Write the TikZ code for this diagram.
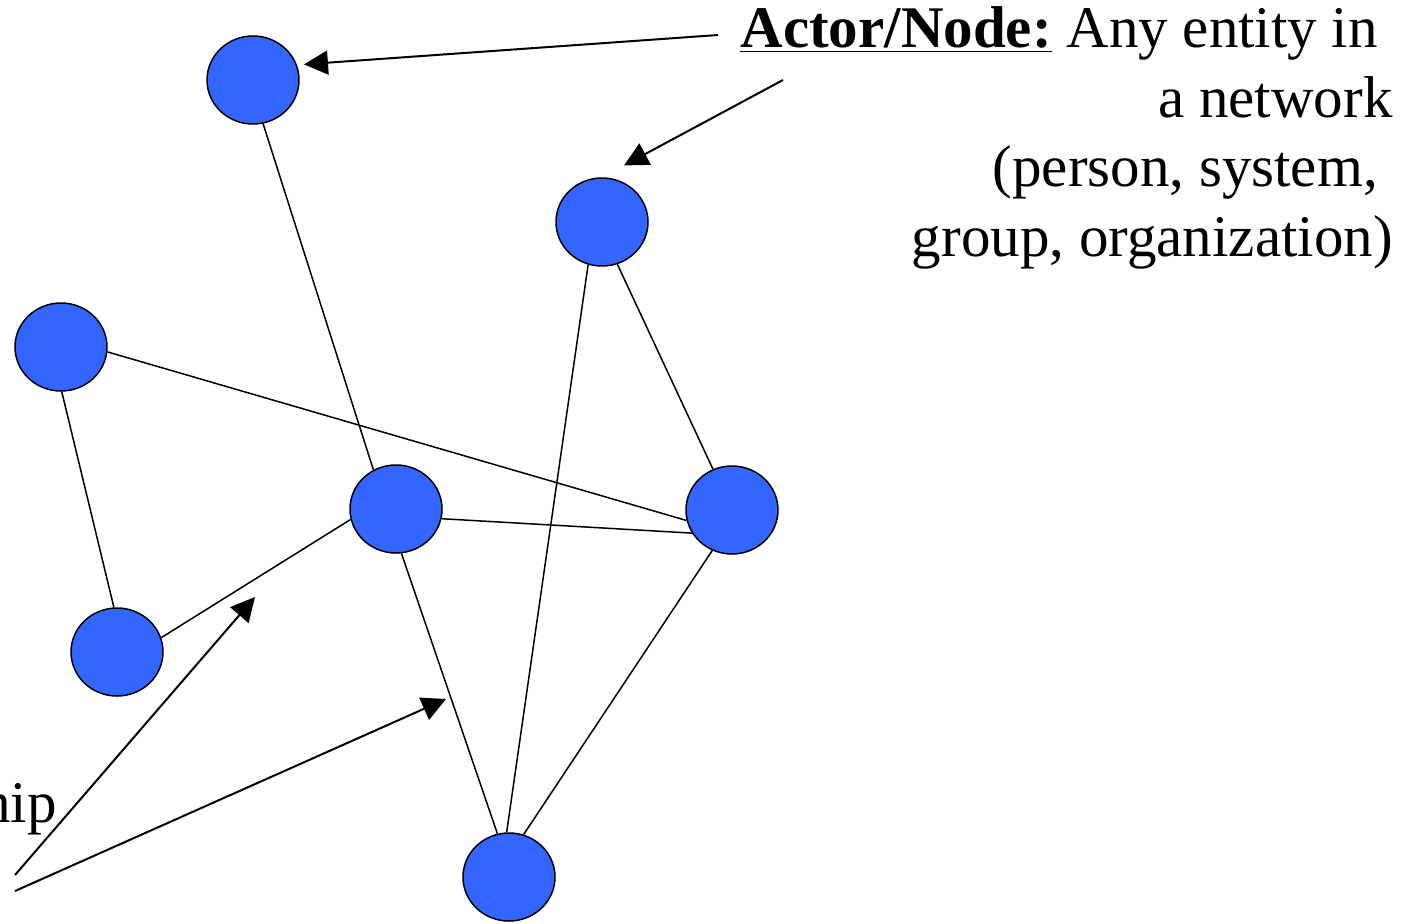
\documentclass[tikz,border=0pt]{standalone}
\usepackage{fontspec}
\setmainfont{Liberation Serif}
\usetikzlibrary{shapes.geometric,arrows.meta}
\definecolor{actorblue}{RGB}{51,102,255}
\newcommand{\trail}{\mbox{\hspace{0.25em}}}
\tikzset{
  actor/.style={ellipse,draw=black,line width=0.75pt,fill=actorblue,
    minimum width=46pt,minimum height=44pt,inner sep=0pt},
  tie/.style={line width=0.75pt},
  pointer/.style={line width=1pt,-{Triangle[length=12pt,width=12pt]}},
  caption/.style={inner sep=0pt,font=\fontsize{29.5}{34.7}\selectfont},
}
\begin{document}
\begin{tikzpicture}[x=0.5pt,y=0.5pt,yscale=-1,xscale=1]
\useasboundingbox (0,0) rectangle (1404,923);
\clip (0,0) rectangle (1404,923);

%Shape: Ellipse (actors)
\node[actor] (A) at (253,80) {};
\node[actor] (B) at (602,222) {};
\node[actor] (C) at (61,347) {};
\node[actor] (D) at (396,509) {};
\node[actor] (E) at (732,510) {};
\node[actor] (F) at (117,652) {};
\node[actor] (G) at (509,877) {};

%Straight Lines (ties)
\draw[tie] (A.-77) -- (D.120);
\draw[tie] (B.-108) -- (G.93);
\draw[tie] (B.-70) -- (E.115);
\draw[tie] (C.-6) -- (E.-167);
\draw[tie] (C.-89) -- (F.94);
\draw[tie] (D.-12) -- (E.-150);
\draw[tie] (F.18) -- (D.-167);
\draw[tie] (D.-83) -- (G.105);
\draw[tie] (E.-116) -- (G.71);

%Text
\node[caption,anchor=base east,align=right] (actortxt) at (1393,256)
  {\underline{\textbf{Actor/Node:}} Any entity in\trail\\
   a network\\
   (person, system,\trail\\
   group, organization)};
\node[caption,anchor=base east] (reltxt) at (57,822) {Relationship};

%Arrows
\coordinate (a1) at (718,35);
\coordinate (a2) at (783,80);
\coordinate (s1) at (15,875);
\coordinate (s2) at (15,891);
\coordinate (r1) at (255,597);
\coordinate (r2) at (446,699);
\draw[pointer,shorten >=3.5pt] (a1) -- (A.19);
\draw[pointer,shorten >=12.5pt] (a2) -- (B.north);
\draw[pointer] (s1) -- (r1);
\draw[pointer] (s2) -- (r2);
\end{tikzpicture}
\end{document}
